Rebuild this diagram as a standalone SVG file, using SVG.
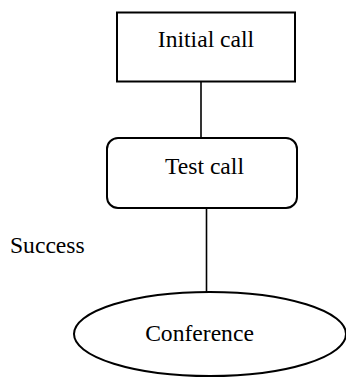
<svg xmlns="http://www.w3.org/2000/svg" width="346" height="381" viewBox="0 0 346 381">
<style>
.shape{fill:#fff;stroke:#000;stroke-width:2}
.edge{stroke:#000;stroke-width:1.6;fill:none}
text{font-family:"Liberation Serif","Times New Roman",serif;font-size:23.6px;fill:#000}
</style>
<rect width="346" height="381" fill="#fff"/>
<g id="connectors">
<line class="edge" x1="201" y1="81.5" x2="201" y2="138"/>
<line class="edge" x1="206.5" y1="208" x2="206.5" y2="292"/>
</g>
<g id="initial-call">
<rect class="shape" x="117" y="12.5" width="178" height="69"/>
<text x="206" y="47" text-anchor="middle">Initial call</text>
</g>
<g id="test-call">
<rect class="shape" x="107" y="138" width="190" height="70" rx="11" ry="11"/>
<text x="204.5" y="174" text-anchor="middle">Test call</text>
</g>
<g id="success-label">
<text x="10" y="253">Success</text>
</g>
<g id="conference">
<ellipse class="shape" cx="210" cy="334" rx="136" ry="42"/>
<text x="199.5" y="341" text-anchor="middle">Conference</text>
</g>
</svg>
